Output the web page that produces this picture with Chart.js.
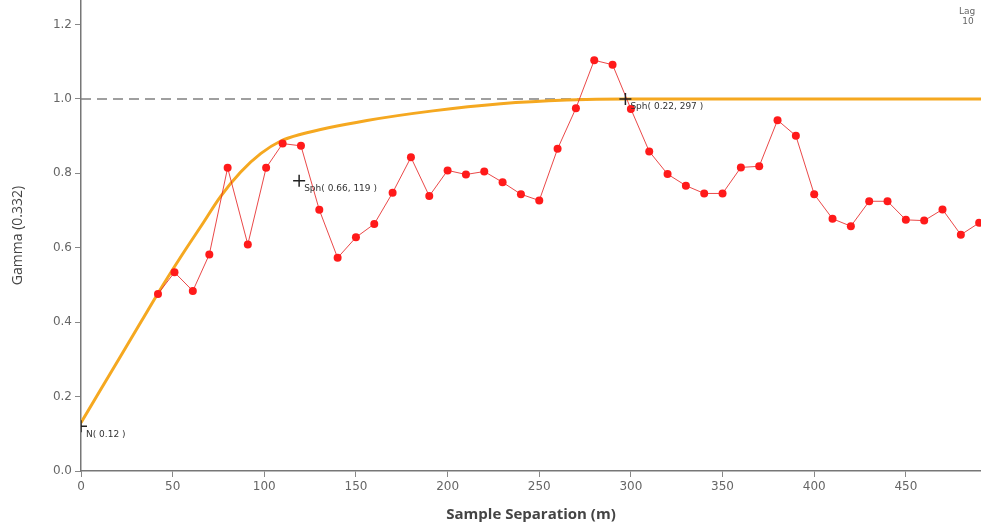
<!DOCTYPE html>
<html>
<head>
<meta charset="utf-8">
<title>Variogram</title>
<script src="https://cdn.jsdelivr.net/npm/chart.js@4/dist/chart.umd.min.js"></script>
<style>
  html, body { margin: 0; padding: 0; background: #fff; }
  canvas { display: block; }
</style>
</head>
<body>
<canvas id="variogramCanvas" width="981" height="531"></canvas>
<script>
// experimental variogram (lag 10 m)
const lagX = [42, 51, 61, 70, 80, 91, 101, 110, 120, 130, 140, 150, 160, 170, 180, 190, 200, 210, 220, 230,
  240, 250, 260, 270, 280, 290, 300, 310, 320, 330, 340, 350, 360, 370, 380, 390, 400, 410, 420, 430,
  440, 450, 460, 470, 480, 490];
const gammaY = [0.476, 0.534, 0.484, 0.582, 0.815, 0.609, 0.815, 0.880, 0.874, 0.702, 0.573, 0.628, 0.664, 0.748, 0.843, 0.739, 0.808, 0.797, 0.805, 0.776,
  0.744, 0.727, 0.866, 0.975, 1.104, 1.092, 0.973, 0.859, 0.798, 0.767, 0.746, 0.746, 0.816, 0.819, 0.943, 0.901, 0.744, 0.678, 0.658, 0.725,
  0.725, 0.675, 0.673, 0.703, 0.635, 0.667];

// fitted model curve
const modelX = [0, 11, 22, 33, 44, 55, 66, 76, 87, 98, 109, 120, 156, 192, 229, 265, 297, 491];
const modelY = [0.13, 0.221, 0.312, 0.403, 0.494, 0.58, 0.662, 0.737, 0.803, 0.853, 0.887, 0.905, 0.942, 0.968, 0.987, 0.997, 1.0, 1.0];

// sill
const sillX = [0, 491];
const sillY = [1.0, 1.0];

// structure markers
const markX = [0, 119, 297];
const markY = [0.12, 0.78, 1.0];
const markLabels = ["N( 0.12 )", "Sph( 0.66, 119 )", "Sph( 0.22, 297 )"];

const xTicks = [0, 50, 100, 150, 200, 250, 300, 350, 400, 450];
const yTicks = [0.0, 0.2, 0.4, 0.6, 0.8, 1.0, 1.2];

const toPoints = (xs, ys) => xs.map((x, i) => ({ x: x, y: ys[i] }));

// no extra room around the plot area
const noPad = (s) => {
  s.paddingTop = 0;
  s.paddingBottom = 0;
  s.paddingLeft = 0;
  s.paddingRight = 0;
};

const labelPlugin = {
  id: "labels",
  afterDatasetsDraw(chart) {
    const ctx = chart.ctx;
    const xs = chart.scales.x, ys = chart.scales.y;
    ctx.save();
    ctx.font = "9px 'DejaVu Sans'";
    ctx.fillStyle = "#333";
    ctx.textBaseline = "middle";
    ctx.textAlign = "left";
    markLabels.forEach((t, i) => {
      ctx.fillText(t, xs.getPixelForValue(markX[i]) + 5, ys.getPixelForValue(markY[i]) + 8);
    });
    ctx.fillStyle = "#666";
    ctx.textAlign = "center";
    ctx.fillText("Lag", 967, 12);
    ctx.fillText("10", 968, 22);
    ctx.restore();
  }
};

const ctx = document.getElementById("variogramCanvas").getContext("2d");

new Chart(ctx, {
  type: "scatter",
  data: {
    datasets: [
      {
        label: "markers",
        data: toPoints(markX, markY),
        pointStyle: "cross",
        pointRadius: 6,
        borderColor: "#222",
        borderWidth: 1.5,
        order: 0
      },
      {
        label: "Gamma",
        data: toPoints(lagX, gammaY),
        showLine: true,
        borderColor: "rgba(230,40,40,0.85)",
        borderWidth: 1,
        pointRadius: 4,
        pointBackgroundColor: "#ff1a1a",
        pointBorderWidth: 0,
        order: 1
      },
      {
        label: "Model",
        data: toPoints(modelX, modelY),
        showLine: true,
        borderColor: "#f5a820",
        borderWidth: 3,
        pointRadius: 0,
        cubicInterpolationMode: "monotone",
        order: 2
      },
      {
        label: "Sill",
        data: toPoints(sillX, sillY),
        showLine: true,
        borderColor: "#808080",
        borderWidth: 1.5,
        borderDash: [10, 6],
        pointRadius: 0,
        order: 3
      }
    ]
  },
  options: {
    responsive: false,
    animation: false,
    layout: { padding: 0, autoPadding: false },
    plugins: {
      legend: { display: false },
      tooltip: { enabled: false }
    },
    scales: {
      x: {
        type: "linear",
        min: 0,
        max: 491,
        afterBuildTicks: (s) => { s.ticks = xTicks.map(v => ({ value: v })); },
        afterFit: (s) => { s.height = 60; noPad(s); },
        ticks: { color: "#666", font: { family: "DejaVu Sans", size: 12 }, padding: 3 },
        grid: { drawOnChartArea: false, tickLength: 6, color: "#888" },
        border: { color: "#777", width: 1.5 },
        title: {
          display: true,
          text: "Sample Separation (m)",
          color: "#444",
          font: { family: "Open Sans", size: 15, weight: "bold" },
          padding: { top: 0, bottom: 7 }
        }
      },
      y: {
        min: 0,
        max: 1.266,
        afterBuildTicks: (s) => { s.ticks = yTicks.map(v => ({ value: v })); },
        afterFit: (s) => { s.width = 81; noPad(s); },
        ticks: {
          color: "#666",
          font: { family: "DejaVu Sans", size: 12 },
          padding: 3,
          callback: (v) => Number(v).toFixed(1)
        },
        grid: { drawOnChartArea: false, tickLength: 6, color: "#888" },
        border: { color: "#777", width: 1.5 },
        title: {
          display: true,
          text: "Gamma (0.332)",
          color: "#444",
          font: { family: "Open Sans", size: 14 },
          padding: { top: 10, bottom: 0 }
        }
      }
    }
  },
  plugins: [labelPlugin]
});
</script>
</body>
</html>
